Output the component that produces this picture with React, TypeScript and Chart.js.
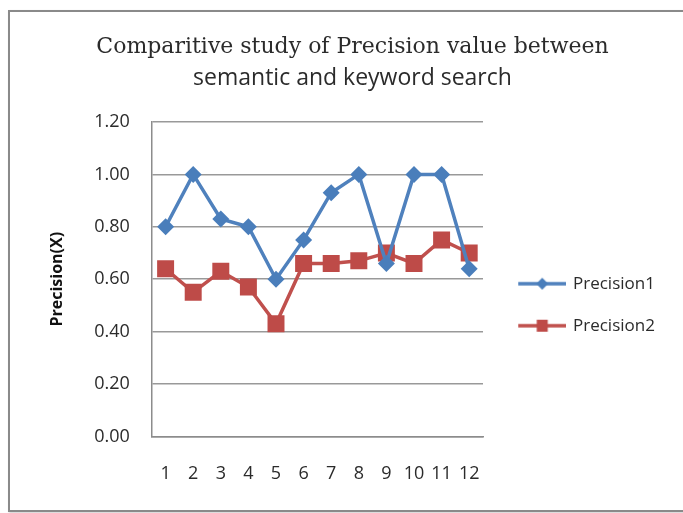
import React, { useEffect, useRef } from 'react';
import { Chart, registerables } from 'chart.js';

Chart.register(...registerables);

const categories = ['1', '2', '3', '4', '5', '6', '7', '8', '9', '10', '11', '12'];
const precision1 = [0.8, 1.0, 0.83, 0.8, 0.6, 0.75, 0.93, 1.0, 0.66, 1.0, 1.0, 0.64];
const precision2 = [0.64, 0.55, 0.63, 0.57, 0.43, 0.66, 0.66, 0.67, 0.7, 0.66, 0.75, 0.7];
const titleLine1 = 'Comparitive study of Precision value between';
const titleLine2 = 'semantic and keyword search';
const yAxisTitle = 'Precision(X)';
const seriesNames = ['Precision1', 'Precision2'];

const BLUE_LINE = '#4F81BD';
const BLUE_MARK = '#4A7EBB';
const RED_LINE = '#C0504D';
const RED_MARK = '#BE4B48';
const TEXT = '#2b2b2b';

// legend icon: transparent left margin, then line with marker in its middle
function makeIcon(line: string, mark: string, style: 'rect' | 'rectRot'): HTMLCanvasElement {
  const c = document.createElement('canvas');
  c.width = 60;
  c.height = 18;
  const ctx = c.getContext('2d')!;
  const x0 = 12;
  const x1 = 60;
  const cx = (x0 + x1) / 2;
  ctx.strokeStyle = line;
  ctx.lineWidth = 3.5;
  ctx.beginPath();
  ctx.moveTo(x0, 9);
  ctx.lineTo(x1, 9);
  ctx.stroke();
  ctx.fillStyle = mark;
  if (style === 'rect') {
    ctx.fillRect(cx - 5.5, 3, 11, 12);
  } else {
    ctx.beginPath();
    ctx.moveTo(cx, 3);
    ctx.lineTo(cx + 6, 9);
    ctx.lineTo(cx, 15);
    ctx.lineTo(cx - 6, 9);
    ctx.closePath();
    ctx.fill();
  }
  return c;
}

export default function App() {
  const ref = useRef<HTMLCanvasElement | null>(null);

  useEffect(() => {
    if (!ref.current) return;
    const icons = [makeIcon(BLUE_LINE, BLUE_MARK, 'rectRot'), makeIcon(RED_LINE, RED_MARK, 'rect')];
    const chart = new Chart(ref.current, {
      type: 'line',
      data: {
        labels: categories,
        datasets: [
          {
            label: seriesNames[0],
            data: precision1,
            borderColor: BLUE_LINE,
            backgroundColor: BLUE_MARK,
            borderWidth: 3.5,
            pointStyle: 'rectRot',
            pointRadius: 8.5,
            pointBorderWidth: 0,
            pointBackgroundColor: BLUE_MARK,
            pointBorderColor: BLUE_MARK,
            tension: 0,
          },
          {
            label: seriesNames[1],
            data: precision2,
            borderColor: RED_LINE,
            backgroundColor: RED_MARK,
            borderWidth: 3.5,
            pointStyle: 'rect',
            pointRadius: 12,
            pointBorderWidth: 0,
            pointBackgroundColor: RED_MARK,
            pointBorderColor: RED_MARK,
            tension: 0,
          },
        ],
      },
      options: {
        animation: false,
        responsive: false,
        layout: { padding: { left: 48, right: 26, top: 20, bottom: 1 } },
        plugins: {
          tooltip: { enabled: false },
          title: {
            display: true,
            text: titleLine1,
            color: TEXT,
            font: { family: 'DejaVu Serif', size: 22, weight: 'normal', lineHeight: 1.2 },
            padding: { top: 14, bottom: 0 },
          },
          subtitle: {
            display: true,
            text: titleLine2,
            color: TEXT,
            font: { family: 'Open Sans', size: 23, weight: 'normal', lineHeight: 1.2 },
            padding: { top: 4, bottom: 30 },
          },
          legend: {
            position: 'right',
            maxWidth: 174,
            title: { display: true, text: ' ', font: { size: 12 }, padding: { top: 0, bottom: 63 } },
            labels: {
              usePointStyle: true,
              pointStyleWidth: 56.5,
              padding: 25,
              color: TEXT,
              font: { family: 'Open Sans', size: 17 },
              generateLabels: (ch: any) =>
                ch.data.datasets.map((ds: any, i: number) => ({
                  text: ds.label,
                  pointStyle: icons[i],
                  fillStyle: ds.backgroundColor,
                  strokeStyle: ds.borderColor,
                  lineWidth: 0,
                  hidden: false,
                  datasetIndex: i,
                  fontColor: TEXT,
                })),
            },
          },
        },
        scales: {
          x: {
            offset: true,
            grid: { display: false, drawTicks: false },
            border: { color: '#8c8c8c', width: 1.5 },
            ticks: {
              color: TEXT,
              padding: 27,
              maxRotation: 0,
              autoSkip: false,
              font: { family: 'Open Sans', size: 18 },
            },
          },
          y: {
            min: 0,
            max: 1.2,
            grid: { color: '#999999', lineWidth: 1.5, drawTicks: false },
            border: { color: '#8c8c8c', width: 1.5 },
            ticks: {
              stepSize: 0.2,
              padding: 22,
              color: TEXT,
              font: { family: 'Open Sans', size: 18 },
              callback: (v: any) => Number(v).toFixed(2),
            },
            title: {
              display: true,
              text: yAxisTitle,
              color: '#111',
              font: { family: 'Open Sans', size: 16, weight: 'bold' },
              padding: { top: 0, bottom: 5 },
            },
          },
        },
      },
    });
    return () => chart.destroy();
  }, []);

  return (
    <div
      style={{
        position: 'absolute',
        left: 0,
        top: 0,
        width: 683,
        height: 513,
        background: '#fff',
        overflow: 'hidden',
      }}
    >
      <div
        style={{
          position: 'absolute',
          left: 8,
          top: 10,
          width: 700,
          height: 498,
          border: '2px solid #8a8a8a',
          boxShadow: '1px 1px 2px rgba(0,0,0,0.2)',
        }}
      />
      <canvas ref={ref} width={683} height={513} style={{ position: 'absolute', left: 0, top: 0 }} />
    </div>
  );
}
